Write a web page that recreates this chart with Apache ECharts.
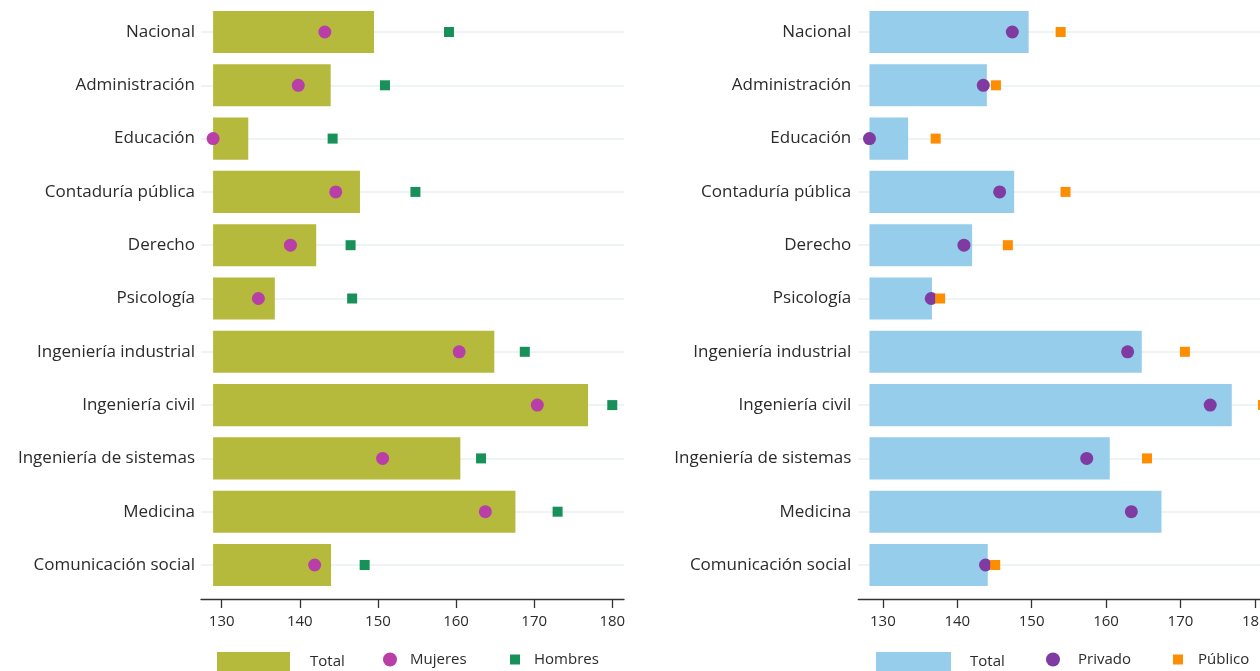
<!DOCTYPE html>
<html>
<head>
<meta charset="utf-8">
<script src="https://cdn.jsdelivr.net/npm/echarts@6/dist/echarts.min.js"></script>
<style>
html,body{margin:0;padding:0;background:#fff;}
#c{width:1260px;height:671px;}
</style>
</head>
<body>
<div id="c"></div>
<script>
const categories = ['Nacional','Administración','Educación','Contaduría pública','Derecho','Psicología','Ingeniería industrial','Ingeniería civil','Ingeniería de sistemas','Medicina','Comunicación social'];
const totalSexo = [149.5,143.95,133.4,147.7,142.1,136.8,164.9,176.9,160.55,167.6,144.0];
const mujeres = [143.2,139.8,128.9,144.6,138.8,134.7,160.4,170.4,150.6,163.75,141.9];
const hombres = [159.1,150.9,144.2,154.8,146.5,146.7,168.8,180.0,163.2,173.0,148.3];
const totalSector = [149.6,143.98,133.4,147.65,142.0,136.6,164.8,176.9,160.5,167.45,144.1];
const privado = [147.4,143.5,128.2,145.7,140.9,136.5,162.9,174.0,157.4,163.4,143.8];
const publico = [153.9,145.2,137.1,154.55,146.8,137.7,170.6,181.1,165.5,182.5,145.1];
const xTicks = [130,140,150,160,170,180];

const FONT = 'Open Sans';
const TXT = '#2b2b2b';
const leftBase = Math.min(...mujeres);
const rightBase = Math.min(...privado);

function xAxisCfg(idx, min, max){
  return {
    type:'value', gridIndex:idx, min:min, max:max, position:'bottom', offset:7.4,
    axisLine:{show:true, lineStyle:{color:'#333', width:1.3}},
    axisTick:{show:true, length:9, customValues:xTicks, lineStyle:{color:'#333', width:1.3}},
    axisLabel:{customValues:xTicks, fontSize:15, color:TXT, fontFamily:FONT, margin:15},
    splitLine:{show:false}
  };
}
function yAxisCfg(idx, margin){
  return {
    type:'category', gridIndex:idx, data:categories, inverse:true,
    axisLine:{show:false}, axisTick:{show:false}, splitLine:{show:false},
    axisLabel:{fontSize:17, color:TXT, fontFamily:FONT, margin:margin, padding:[0,0,3,0]}
  };
}
function gridLines(){
  return {silent:true, symbol:'none', z:1, animation:false,
    label:{show:false}, emphasis:{disabled:true},
    lineStyle:{color:'#e8f1f1', width:1.6, type:'solid'},
    data:categories.map(c=>({yAxis:c}))};
}
function legendCfg(name, left, icon, w, h, gap, label){
  return {
    data:[{name:name, icon:icon}], left:left, top:652, padding:0,
    itemWidth:w, itemHeight:h, selectedMode:false,
    formatter:()=>label,
    textStyle:{fontSize:15, color:TXT, fontFamily:FONT, padding:[0,0,0,gap-5]}
  };
}

const option = {
  animation:false,
  grid:[
    {left:201, top:5.35, width:423, height:586.3, outerBoundsMode:'none', containLabel:false},
    {left:858.3, top:5.35, width:407.7, height:586.3, outerBoundsMode:'none', containLabel:false}
  ],
  xAxis:[xAxisCfg(0,127.35,181.5), xAxisCfg(1,126.7,181.5)],
  yAxis:[yAxisCfg(0,6), yAxisCfg(1,7)],
  legend:[
    legendCfg('TotalSexo',217,'rect',73,20,20,'Total'),
    legendCfg('Mujeres',383,'circle',14,14,13,'Mujeres'),
    legendCfg('Hombres',510,'rect',10,10,14,'Hombres'),
    legendCfg('TotalSector',876,'rect',75,20,19,'Total'),
    legendCfg('Privado',1046,'circle',14,14,18,'Privado'),
    legendCfg('Público',1173,'rect',10,10,15,'Público')
  ],
  series:[
    {name:'baseL', type:'bar', xAxisIndex:0, yAxisIndex:0, stack:'L', barWidth:'79%', silent:true,
      itemStyle:{color:'rgba(0,0,0,0)'}, data:categories.map(()=>leftBase), markLine:gridLines()},
    {name:'TotalSexo', type:'bar', xAxisIndex:0, yAxisIndex:0, stack:'L', barWidth:'79%',
      itemStyle:{color:'#b5ba3c'}, data:totalSexo.map(v=>v-leftBase)},
    {name:'Mujeres', type:'scatter', xAxisIndex:0, yAxisIndex:0, symbol:'circle', symbolSize:13, z:4,
      itemStyle:{color:'#b93ea7', opacity:1}, data:mujeres.map((v,i)=>[v,categories[i]])},
    {name:'Hombres', type:'scatter', xAxisIndex:0, yAxisIndex:0, symbol:'rect', symbolSize:10, z:4,
      itemStyle:{color:'#17905a', opacity:1}, data:hombres.map((v,i)=>[v,categories[i]])},

    {name:'baseR', type:'bar', xAxisIndex:1, yAxisIndex:1, stack:'R', barWidth:'79%', silent:true,
      itemStyle:{color:'rgba(0,0,0,0)'}, data:categories.map(()=>rightBase), markLine:gridLines()},
    {name:'TotalSector', type:'bar', xAxisIndex:1, yAxisIndex:1, stack:'R', barWidth:'79%',
      itemStyle:{color:'#96cdeb'}, data:totalSector.map(v=>v-rightBase)},
    {name:'Privado', type:'scatter', xAxisIndex:1, yAxisIndex:1, symbol:'circle', symbolSize:13, z:4,
      itemStyle:{color:'#7f3ba1', opacity:1}, data:privado.map((v,i)=>[v,categories[i]])},
    {name:'Público', type:'scatter', xAxisIndex:1, yAxisIndex:1, symbol:'rect', symbolSize:10, z:4,
      itemStyle:{color:'#ff8d00', opacity:1}, data:publico.map((v,i)=>[v,categories[i]])}
  ]
};
const chart = echarts.init(document.getElementById('c'));
chart.setOption(option);
</script>
</body>
</html>
